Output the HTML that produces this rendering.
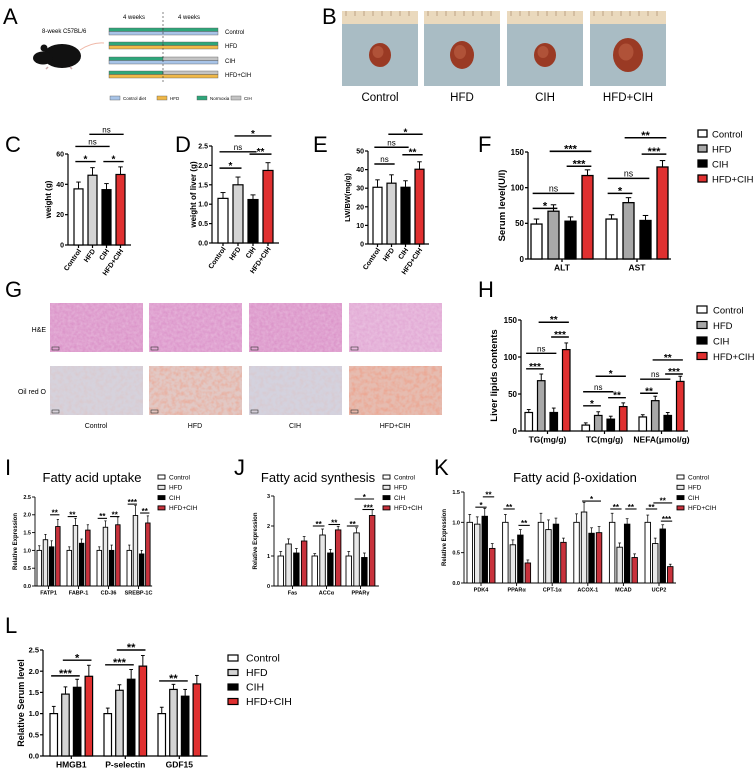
<!DOCTYPE html>
<html><head><meta charset="utf-8"><style>
html,body{margin:0;padding:0;background:#fff;}
svg{display:block;font-family:"Liberation Sans",sans-serif;}
</style></head><body>
<svg id="fig" width="755" height="770" viewBox="0 0 755 770" xmlns="http://www.w3.org/2000/svg">
<defs>
<filter id="noiseHE" x="0" y="0" width="100%" height="100%"><feTurbulence type="fractalNoise" baseFrequency="0.35" numOctaves="2" seed="3"/><feColorMatrix type="matrix" values="0 0 0 0 1  0 0 0 0 1  0 0 0 0 1  0 0 0 0.35 0"/><feComposite in2="SourceGraphic" operator="in"/></filter>
<filter id="noiseOil" x="0" y="0" width="100%" height="100%"><feTurbulence type="fractalNoise" baseFrequency="0.25" numOctaves="2" seed="7"/><feColorMatrix type="matrix" values="0 0 0 0 0.85  0 0 0 0 0.35  0 0 0 0 0.25  0 0 0 1.6 -0.6"/><feComposite in2="SourceGraphic" operator="in"/></filter>
</defs>

<g>
<text x="3" y="24" font-size="22">A</text>
<text x="42" y="33" font-size="6">8-week C57BL/6</text>
<g>
<path d="M80,50 Q92,42 104,43" stroke="#f0b8a8" fill="none" stroke-width="1"/>
<ellipse cx="62" cy="56" rx="19" ry="12" fill="#111"/>
<ellipse cx="43" cy="58" rx="10" ry="6.5" fill="#111"/>
<circle cx="44" cy="48" r="3.5" fill="#111"/>
<path d="M48,67 l-2,2 M70,67 l2,2" stroke="#caa" stroke-width="1.5"/>
</g>
<text x="123" y="19" font-size="6">4 weeks</text>
<text x="178" y="19" font-size="6">4 weeks</text>
<g id="aRows"></g>
<line x1="163" y1="12" x2="163" y2="82" stroke="#333" stroke-width="0.6" stroke-dasharray="2,2"/>
<g id="aLegend"></g>
</g>

<g id="panelB">
<text x="322" y="24" font-size="22">B</text>
</g>

<text x="5" y="152" font-size="22">C</text>
<text x="175" y="152" font-size="22">D</text>
<text x="313" y="152" font-size="22">E</text>
<text x="478" y="152" font-size="22">F</text>
<text x="5" y="297" font-size="22">G</text>
<text x="478" y="297" font-size="22">H</text>
<text x="5" y="475" font-size="22">I</text>
<text x="234" y="475" font-size="22">J</text>
<text x="434" y="475" font-size="22">K</text>
<text x="5" y="633" font-size="22">L</text>

<g id="panelG"></g>
<g id="charts"></g>
</svg>
<script>
var groupNames = ["Control","HFD","CIH","HFD+CIH"];
var cVals = [37, 46, 36.5, 46.5];
var cErr = [4.5, 5, 4, 5];
var cTicks = [0, 20, 40, 60];
var dVals = [1.15, 1.5, 1.12, 1.87];
var dErr = [0.15, 0.2, 0.12, 0.2];
var dTicks = [0, 0.5, 1.0, 1.5, 2.0, 2.5];
var eVals = [30.5, 32.7, 30.5, 40.2];
var eErr = [4, 4.5, 3.5, 4];
var eTicks = [0, 10, 20, 30, 40, 50];
var fCats = ["ALT","AST"];
var fControl = [49, 56];
var fHFD = [67, 79];
var fCIH = [53, 54];
var fHFDCIH = [117, 129];
var fErr = [[7,6],[9,7],[6,7],[8,9]];
var fTicks = [0, 50, 100, 150];
var hCats = ["TG(mg/g)","TC(mg/g)","NEFA(\u03bcmol/g)"];
var hControl = [25, 8, 19];
var hHFD = [68, 21, 41];
var hCIH = [25, 16, 21];
var hHFDCIH = [110, 33, 67];
var hErr = [[4,3,3],[9,5,6],[6,4,4],[9,5,7]];
var hTicks = [0, 50, 100, 150];
var iCats = ["FATP1","FABP-1","CD-36","SREBP-1C"];
var iControl = [1.0, 1.0, 1.0, 1.0];
var iHFD = [1.3, 1.7, 1.65, 1.98];
var iCIH = [1.1, 1.2, 1.0, 0.9];
var iHFDCIH = [1.67, 1.57, 1.72, 1.77];
var iErr = [[0.13,0.1,0.1,0.15],[0.15,0.2,0.18,0.28],[0.17,0.12,0.15,0.1],[0.2,0.15,0.22,0.2]];
var iTicks = [0, 0.5, 1.0, 1.5, 2.0, 2.5];
var jCats = ["Fas","ACC\u03b1","PPAR\u03b3"];
var jControl = [1.0, 1.0, 1.0];
var jHFD = [1.4, 1.7, 1.77];
var jCIH = [1.1, 1.1, 0.95];
var jHFDCIH = [1.5, 1.87, 2.35];
var jErr = [[0.15,0.08,0.15],[0.17,0.2,0.17],[0.15,0.12,0.15],[0.15,0.12,0.2]];
var jTicks = [0, 1, 2, 3];
var kCats = ["PDK4","PPAR\u03b1","CPT-1\u03b1","ACOX-1","MCAD","UCP2"];
var kControl = [1.0, 1.0, 1.0, 1.0, 1.0, 1.0];
var kHFD = [0.97, 0.63, 0.88, 1.17, 0.59, 0.65];
var kCIH = [1.1, 0.79, 0.97, 0.82, 0.97, 0.89];
var kHFDCIH = [0.57, 0.33, 0.67, 0.83, 0.42, 0.27];
var kErr = [[0.13,0.13,0.15,0.14,0.15,0.12],[0.12,0.08,0.16,0.16,0.07,0.09],[0.13,0.09,0.1,0.09,0.09,0.07],[0.08,0.05,0.07,0.1,0.06,0.04]];
var kTicks = [0, 0.5, 1.0, 1.5];
var lCats = ["HMGB1","P-selectin","GDF15"];
var lControl = [1.0, 1.0, 1.0];
var lHFD = [1.46, 1.55, 1.57];
var lCIH = [1.62, 1.81, 1.41];
var lHFDCIH = [1.88, 2.12, 1.7];
var lErr = [[0.17,0.13,0.15],[0.17,0.13,0.12],[0.19,0.23,0.16],[0.26,0.25,0.2]];
var lTicks = [0, 0.5, 1.0, 1.5, 2.0, 2.5];

var NS = "http://www.w3.org/2000/svg";
var root = document.getElementById("charts");
function mk(tag, attrs, parent) {
  var e = document.createElementNS(NS, tag);
  for (var k in attrs) e.setAttribute(k, attrs[k]);
  (parent || root).appendChild(e);
  return e;
}
function txt(x, y, s, size, parent, extra) {
  var a = {x: x, y: y, "font-size": size};
  if (extra) for (var k in extra) a[k] = extra[k];
  var t = mk("text", a, parent);
  t.textContent = s;
  return t;
}

function chart(c) {
  var g = mk("g", {});
  
  
  var yScale = function (v) { return c.y0 - (v / c.max) * (c.y0 - c.y1); };
  var nS = c.series.length, nG = c.series[0].length;
  var xOf = function (gi, si) { return c.ax + c.pad + gi * c.gs + si * c.step; };
  var lastX = xOf(nG - 1, nS - 1) + c.bw + c.pad;
  var ya = mk("line", {x1: c.ax, y1: c.y1, x2: c.ax, y2: c.y0, stroke: "#000", "stroke-width": c.lw}, g);
  
  
  var xa = mk("line", {x1: c.ax, y1: c.y0, x2: lastX, y2: c.y0, stroke: "#000", "stroke-width": c.lw}, g);
  
  
  c.ticks.forEach(function (t) {
    var y = yScale(t);
    mk("line", {x1: c.ax - 3, y1: y, x2: c.ax, y2: y, stroke: "#000", "stroke-width": c.lw}, g);
    var tl = txt(c.ax - 4, y + c.tf * 0.35, c.fmt(t), c.tf, g, {"text-anchor": "end", "font-weight": "bold"});
    
    
  });
  var yt = txt(0, 0, c.ytitle, c.ytf, g, {"text-anchor": "middle", "font-weight": "bold", transform: "translate(" + c.ytx + "," + ((c.y0 + c.y1) / 2) + ") rotate(-90)"});
  
  
  for (var gi = 0; gi < nG; gi++) {
    for (var si = 0; si < nS; si++) {
      var v = c.series[si][gi], e = c.errs[si][gi];
      var x = xOf(gi, si), y = yScale(v);
      var r = mk("rect", {x: x, y: y, width: c.bw, height: c.y0 - y, fill: c.colors[si], stroke: "#000", "stroke-width": c.lw}, g);
      
      
      var cx = x + c.bw / 2, ye = yScale(v + e);
      mk("line", {x1: cx, y1: y, x2: cx, y2: ye, stroke: "#000", "stroke-width": c.lw * 0.8}, g);
      mk("line", {x1: cx - c.bw * 0.25, y1: ye, x2: cx + c.bw * 0.25, y2: ye, stroke: "#000", "stroke-width": c.lw * 0.8}, g);
    }
    if (c.rotLabels) {
      for (var si2 = 0; si2 < nS; si2++) {
        var cx2 = xOf(gi, si2) + c.bw / 2;
        var cl = txt(0, 0, groupNames[si2], c.cf, g, {"text-anchor": "end", "font-weight": "bold", transform: "translate(" + (cx2 + 3) + "," + (c.y0 + 6) + ") rotate(-55)"});
        
        
        mk("line", {x1: cx2, y1: c.y0, x2: cx2, y2: c.y0 + 3, stroke: "#000", "stroke-width": c.lw}, g);
      }
    } else {
      var mid = (xOf(gi, 0) + xOf(gi, nS - 1) + c.bw) / 2;
      mk("line", {x1: mid, y1: c.y0, x2: mid, y2: c.y0 + 3, stroke: "#000", "stroke-width": c.lw}, g);
      var cl2 = txt(mid, c.y0 + c.cf + 3, c.cats[gi], c.cf, g, {"text-anchor": "middle", "font-weight": "bold"});
      
      
    }
  }
  (c.sigs || []).forEach(function (s) {
    var x1 = xOf(s[0], s[1]) + c.bw * 0.15, x2 = xOf(s[0], s[2]) + c.bw * 0.85, y = yScale(s[3]);
    var sl = mk("line", {x1: x1, y1: y, x2: x2, y2: y, stroke: "#000", "stroke-width": c.lw * 1.2}, g);
    
    
    var isNs = s[4] === "ns";
    var st = txt((x1 + x2) / 2, isNs ? y - 2 : y + c.sf * 0.1, s[4], isNs ? c.sf * 0.8 : c.sf, g, {"text-anchor": "middle", "font-weight": isNs ? "normal" : "bold"});
    
    
  });
  if (c.legend) {
    var L = c.legend;
    for (var k = 0; k < 4; k++) {
      var ly = L.y + k * L.dy;
      var lr = mk("rect", {x: L.x, y: ly - L.h, width: L.w, height: L.h, fill: c.colors[k], stroke: "#000", "stroke-width": c.lw}, g);
      
      
      var lt = txt(L.x + L.w + L.gap, ly + L.f * 0.05, groupNames[k], L.f, g, {});
      
      
    }
  }
  if (c.title) {
    var tt = txt(c.title.x, c.title.y, c.title.s, c.title.f, g, {"text-anchor": "middle"});
    
    
  }
}

var RED = "#e03030", RED2 = "#c8323c";
var f1 = function (t) { return t.toFixed(1); };
var f0 = function (t) { return String(t); };
function single(arr) { return arr.map(function (v) { return [v]; }); }

chart({name: "chart-c-body-weight", ax: 68, y0: 245, y1: 154, max: 60, ticks: cTicks, fmt: f0, tf: 7,
  series: single(cVals), errs: single(cErr), cats: [""], catsName: ["weight"], colors: ["#fff", "#d4d4d4", "#000", RED],
  pad: 6, bw: 9, step: 14, gs: 0, lw: 1.2, rotLabels: true, cf: 7, ytitle: "weight (g)", ytf: 8, ytx: 51, sf: 10,
  sigs: [[0,0,1,55,"*"],[0,2,3,55,"*"],[0,0,2,65,"ns"],[0,1,3,73,"ns"]]});
chart({name: "chart-d-liver-weight", ax: 212, y0: 243, y1: 146, max: 2.5, ticks: dTicks, fmt: f1, tf: 7,
  series: single(dVals), errs: single(dErr), cats: [""], catsName: ["liver"], colors: ["#fff", "#d4d4d4", "#000", RED],
  pad: 6, bw: 10, step: 15, gs: 0, lw: 1.2, rotLabels: true, cf: 7, ytitle: "weight of liver (g)", ytf: 8, ytx: 196, sf: 10,
  sigs: [[0,0,1,1.93,"*"],[0,0,2,2.35,"ns"],[0,2,3,2.29,"**"],[0,1,3,2.76,"*"]]});
chart({name: "chart-e-lw-bw", ax: 368, y0: 244, y1: 151, max: 50, ticks: eTicks, fmt: f0, tf: 7,
  series: single(eVals), errs: single(eErr), cats: [""], catsName: ["lwbw"], colors: ["#fff", "#d4d4d4", "#000", RED],
  pad: 5, bw: 9, step: 14, gs: 0, lw: 1.2, rotLabels: true, cf: 7, ytitle: "LW/BW(mg/g)", ytf: 7.5, ytx: 350, sf: 10,
  sigs: [[0,0,1,43,"ns"],[0,0,2,52,"ns"],[0,2,3,48,"**"],[0,1,3,59,"*"]]});
chart({name: "chart-f-serum", ax: 528, y0: 259, y1: 152, max: 150, ticks: fTicks, fmt: f0, tf: 8,
  series: [fControl, fHFD, fCIH, fHFDCIH], errs: fErr, cats: fCats, catsName: fCats, colors: ["#fff", "#a8a8a8", "#000", RED],
  pad: 3, bw: 11, step: 17, gs: 75, lw: 1.3, rotLabels: false, cf: 8.5, ytitle: "Serum level(U/l)", ytf: 9.5, ytx: 505, sf: 11,
  sigs: [[0,0,1,71,"*"],[0,0,2,92,"ns"],[0,2,3,130,"***"],[0,1,3,151,"***"],[1,0,1,92,"*"],[1,0,2,113,"ns"],[1,2,3,147,"***"],[1,1,3,170,"**"]],
  legend: {x: 698, y: 137, dy: 15, w: 9, h: 7, gap: 5, f: 9.5}});
chart({name: "chart-h-liver-lipids", ax: 521, y0: 431, y1: 320, max: 150, ticks: hTicks, fmt: f0, tf: 8,
  series: [hControl, hHFD, hCIH, hHFDCIH], errs: hErr, cats: hCats, catsName: ["TG","TC","NEFA"], colors: ["#fff", "#a8a8a8", "#000", RED],
  pad: 4, bw: 7.5, step: 12.5, gs: 57, lw: 1.2, rotLabels: false, cf: 8.5, ytitle: "Liver lipids contents", ytf: 9.5, ytx: 497, sf: 10,
  sigs: [[0,0,1,84,"***"],[0,0,2,105,"ns"],[0,2,3,127,"***"],[0,1,3,147,"**"],[1,0,1,34,"*"],[1,0,2,53,"ns"],[1,2,3,45,"**"],[1,1,3,74,"*"],[2,0,1,51,"**"],[2,0,2,70,"ns"],[2,2,3,77,"***"],[2,1,3,96,"**"]],
  legend: {x: 697, y: 313, dy: 15.5, w: 10, h: 7, gap: 6, f: 9.5}});
chart({name: "chart-i-uptake", ax: 35, y0: 586, y1: 497, max: 2.5, ticks: iTicks, fmt: f1, tf: 5.5,
  series: [iControl, iHFD, iCIH, iHFDCIH], errs: iErr, cats: iCats, catsName: iCats, colors: ["#fff", "#e8e8e8", "#000", RED2],
  pad: 2, bw: 4.5, step: 6.2, gs: 30, lw: 0.9, rotLabels: false, cf: 5.5, ytitle: "Relative Expression", ytf: 6, ytx: 17, sf: 8,
  sigs: [[0,2,3,2.0,"**"],[1,0,1,1.95,"**"],[2,0,1,1.9,"**"],[2,2,3,1.95,"**"],[3,0,1,2.3,"***"],[3,2,3,2.05,"**"]],
  legend: {x: 158, y: 479, dy: 10.3, w: 7, h: 4, gap: 4, f: 6.5},
  title: {x: 92, y: 482, s: "Fatty acid uptake", f: 13}});
chart({name: "chart-j-synthesis", ax: 274, y0: 586, y1: 496, max: 3, ticks: jTicks, fmt: f0, tf: 5.5,
  series: [jControl, jHFD, jCIH, jHFDCIH], errs: jErr, cats: jCats, catsName: ["Fas","ACC","PPARg"], colors: ["#fff", "#e8e8e8", "#000", RED2],
  pad: 4, bw: 5.5, step: 7.8, gs: 34, lw: 0.9, rotLabels: false, cf: 5.5, ytitle: "Relative Expression", ytf: 6, ytx: 257, sf: 8,
  sigs: [[1,0,1,2.0,"**"],[1,2,3,2.05,"**"],[2,0,1,2.0,"**"],[2,2,3,2.55,"***"],[2,1,3,2.9,"*"]],
  legend: {x: 383, y: 479, dy: 10.3, w: 7, h: 4, gap: 4, f: 6.5},
  title: {x: 318, y: 482, s: "Fatty acid synthesis", f: 13}});
chart({name: "chart-k-beta-oxidation", ax: 464, y0: 583, y1: 492, max: 1.5, ticks: kTicks, fmt: f1, tf: 5.5,
  series: [kControl, kHFD, kCIH, kHFDCIH], errs: kErr, cats: kCats, catsName: ["PDK4","PPARa","CPT1a","ACOX1","MCAD","UCP2"], colors: ["#fff", "#e8e8e8", "#000", RED2],
  pad: 3, bw: 5.5, step: 7.5, gs: 35.6, lw: 0.9, rotLabels: false, cf: 5.5, ytitle: "Relative Expression", ytf: 6, ytx: 446, sf: 8,
  sigs: [[0,1,2,1.25,"*"],[0,2,3,1.42,"**"],[1,0,1,1.22,"**"],[1,2,3,0.95,"**"],[3,1,3,1.35,"*"],[4,0,1,1.22,"**"],[4,2,3,1.22,"**"],[5,0,1,1.22,"**"],[5,2,3,1.02,"***"],[5,1,3,1.32,"**"]],
  legend: {x: 677, y: 479, dy: 10.3, w: 7, h: 4, gap: 4, f: 6.5},
  title: {x: 575, y: 482, s: "Fatty acid \u03b2-oxidation", f: 13}});
chart({name: "chart-l-serum-markers", ax: 43, y0: 756, y1: 650, max: 2.5, ticks: lTicks, fmt: f1, tf: 7.5,
  series: [lControl, lHFD, lCIH, lHFDCIH], errs: lErr, cats: lCats, catsName: ["HMGB1","Pselectin","GDF15"], colors: ["#fff", "#d4d4d4", "#000", RED],
  pad: 7, bw: 7.5, step: 11.7, gs: 54, lw: 1.2, rotLabels: false, cf: 8.5, ytitle: "Relative Serum level", ytf: 9, ytx: 24, sf: 11,
  sigs: [[0,0,2,1.89,"***"],[0,1,3,2.26,"*"],[1,0,2,2.15,"***"],[1,1,3,2.5,"**"],[2,0,2,1.77,"**"]],
  legend: {x: 228, y: 661, dy: 14.5, w: 10, h: 6, gap: 8, f: 10.5}});

var aRowsG = document.getElementById("aRows");
var aRowNames = ["Control","HFD","CIH","HFD+CIH"];
var aTop2 = ["#2ea67a","#2ea67a","#c4c4c4","#c4c4c4"];
var aBottom = ["#a8c4e8","#f0b848","#a8c4e8","#f0b848"];
var aRowY = [28, 42, 57, 71];
for (var i = 0; i < 4; i++) {
  var y = aRowY[i];
  var r1 = mk("rect", {x: 109, y: y, width: 54, height: 3.5, fill: "#2ea67a", stroke: "#555", "stroke-width": 0.4}, aRowsG);
  
  
  var r2 = mk("rect", {x: 163, y: y, width: 55, height: 3.5, fill: aTop2[i], stroke: "#555", "stroke-width": 0.4}, aRowsG);
  
  
  var r3 = mk("rect", {x: 109, y: y + 3.5, width: 109, height: 3.5, fill: aBottom[i], stroke: "#555", "stroke-width": 0.4}, aRowsG);
  
  
  var tl = txt(225, y + 6, aRowNames[i], 6, aRowsG, {});
  
  
}
var aLeg = document.getElementById("aLegend");
var aLegNames = ["Control diet","HFD","Normoxia","CIH"];
var aLegCol = ["#a8c4e8","#f0b848","#2ea67a","#c4c4c4"];
var aLegX = [110, 157, 197, 231];
for (var i = 0; i < 4; i++) {
  var lr = mk("rect", {x: aLegX[i], y: 96, width: 10, height: 4, fill: aLegCol[i], stroke: "#555", "stroke-width": 0.4}, aLeg);
  
  
  var lt = txt(aLegX[i] + 13, 100, aLegNames[i], 4.5, aLeg, {});
  
  
}

var pB = document.getElementById("panelB");
var bX = [342, 424, 507, 590];
var bLiverR = [[11,12],[12,14],[11,12],[15,17]];
for (var i = 0; i < 4; i++) {
  var x = bX[i];
  var ph = mk("g", {}, pB);
  
  
  mk("rect", {x: x, y: 11, width: 76, height: 75, fill: "#a9bcc4"}, ph);
  mk("rect", {x: x, y: 11, width: 76, height: 13, fill: "#ead9bd"}, ph);
  for (var t = 0; t < 8; t++) mk("line", {x1: x + 4 + t * 9, y1: 11, x2: x + 4 + t * 9, y2: 16, stroke: "#a08060", "stroke-width": 0.6}, ph);
  mk("ellipse", {cx: x + 38, cy: 55, rx: bLiverR[i][0], ry: bLiverR[i][1], fill: "#9a3a24"}, ph);
  mk("ellipse", {cx: x + 36, cy: 52, rx: bLiverR[i][0] * 0.5, ry: bLiverR[i][1] * 0.5, fill: "#b05238"}, ph);
  var bl = txt(x + 38, 101, groupNames[i], 11.5, pB, {"text-anchor": "middle"});
  
  
}

var pG = document.getElementById("panelG");
var gX = [50, 149, 249, 349];
var heCol = ["#d98ec6","#da90c8","#d98ec6","#e0a4d2"];
var oilCol = ["#d6d2dc","#e2c8c4","#d4d2de","#e6bcb0"];
var oilAmt = [0.2, 0.8, 0.2, 1.0];
for (var i = 0; i < 4; i++) {
  var x = gX[i];
  var he = mk("g", {}, pG);
  
  
  mk("rect", {x: x, y: 303, width: 93, height: 49, fill: heCol[i]}, he);
  mk("rect", {x: x, y: 303, width: 93, height: 49, fill: "#fff", filter: "url(#noiseHE)"}, he);
  mk("rect", {x: x + 2, y: 347, width: 7, height: 3, fill: "none", stroke: "#333", "stroke-width": 0.6}, he);
  var oil = mk("g", {}, pG);
  
  
  mk("rect", {x: x, y: 366, width: 93, height: 49, fill: oilCol[i]}, oil);
  mk("rect", {x: x, y: 366, width: 93, height: 49, fill: "#fff", filter: "url(#noiseOil)", opacity: oilAmt[i]}, oil);
  mk("rect", {x: x + 2, y: 410, width: 7, height: 3, fill: "none", stroke: "#333", "stroke-width": 0.6}, oil);
  var gl = txt(x + 46, 428, groupNames[i], 7, pG, {"text-anchor": "middle"});
  
  
}
var r1l = txt(46, 332, "H&E", 7, pG, {"text-anchor": "end"});


var r2l = txt(46, 394, "Oil red O", 7, pG, {"text-anchor": "end"});


</script>
</body></html>
